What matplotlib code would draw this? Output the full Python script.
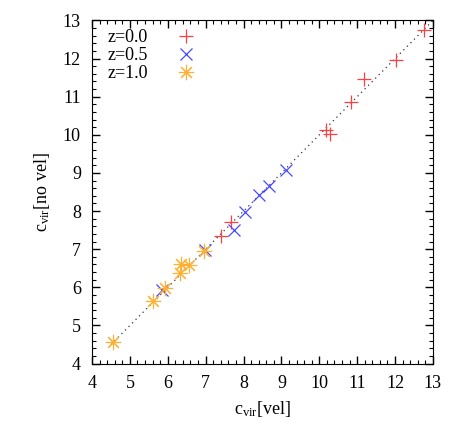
import matplotlib
matplotlib.use("Agg")
import matplotlib.pyplot as plt
from matplotlib.ticker import MultipleLocator

plt.rcParams['font.family'] = ['Liberation Serif', 'DejaVu Serif']
plt.rcParams['mathtext.fontset'] = 'custom'
plt.rcParams['mathtext.rm'] = 'Liberation Serif'
plt.rcParams['mathtext.it'] = 'Liberation Serif:italic'

# z = 0.0
x_z0 = [12.77, 12.02, 11.18, 10.85, 10.17, 10.28, 7.67, 7.40]
y_z0 = [12.75, 11.97, 11.46, 10.86, 10.13, 10.03, 7.72, 7.35]
# z = 0.5
x_z05 = [9.12, 8.68, 8.41, 8.04, 7.76, 6.98, 5.84]
y_z05 = [9.08, 8.66, 8.41, 7.98, 7.50, 6.98, 5.93]
# z = 1.0
x_z1 = [6.96, 6.34, 6.57, 6.32, 5.93, 5.62, 4.55]
y_z1 = [6.96, 6.61, 6.58, 6.37, 5.99, 5.64, 4.56]

line_x = [4.5, 13.0]
line_y = [4.5, 13.0]

FS = 13

fig = plt.figure(figsize=(4.67, 4.36), dpi=100)
ax = fig.add_axes([0.197, 0.166, 0.730, 0.787])

ax.plot(line_x, line_y, linestyle=(0, (1, 3)), color='#333333', lw=0.9, zorder=1)
ax.plot(x_z0, y_z0, linestyle='none', marker='+', ms=10, mew=0.9,
        color='#ff4040', label='z=0.0', zorder=2)
ax.plot(x_z05, y_z05, linestyle='none', marker='x', ms=8, mew=0.9,
        color='#4848ff', label='z=0.5', zorder=3)
ax.plot(x_z1, y_z1, linestyle='none', marker=(8, 2, 0), ms=11, mew=0.8,
        color='#ffb030', label='z=1.0', zorder=4)

ax.set_xlim(4, 13)
ax.set_ylim(4, 13)
ax.xaxis.set_major_locator(MultipleLocator(1))
ax.yaxis.set_major_locator(MultipleLocator(1))
ax.xaxis.set_minor_locator(MultipleLocator(0.2))
ax.yaxis.set_minor_locator(MultipleLocator(0.2))
ax.tick_params(which='both', direction='in', top=True, right=True, labelsize=FS)
ax.tick_params(which='major', length=6, width=1)
ax.tick_params(which='minor', length=3, width=0.8)
ax.tick_params(axis='x', pad=8)
ax.tick_params(axis='y', pad=8)

ax.set_xlabel(r'c$_{\mathrm{vir}}$[vel]', fontsize=FS, labelpad=5)
ax.set_ylabel(r'c$_{\mathrm{vir}}$[no vel]', fontsize=FS, labelpad=8)

leg = ax.legend(loc='upper left', frameon=False, markerfirst=False, fontsize=FS,
                handlelength=1.2, handletextpad=1.5, labelspacing=0.05,
                borderaxespad=0.0, bbox_to_anchor=(0.025, 0.995))

fig.savefig('out.png', dpi=100)
